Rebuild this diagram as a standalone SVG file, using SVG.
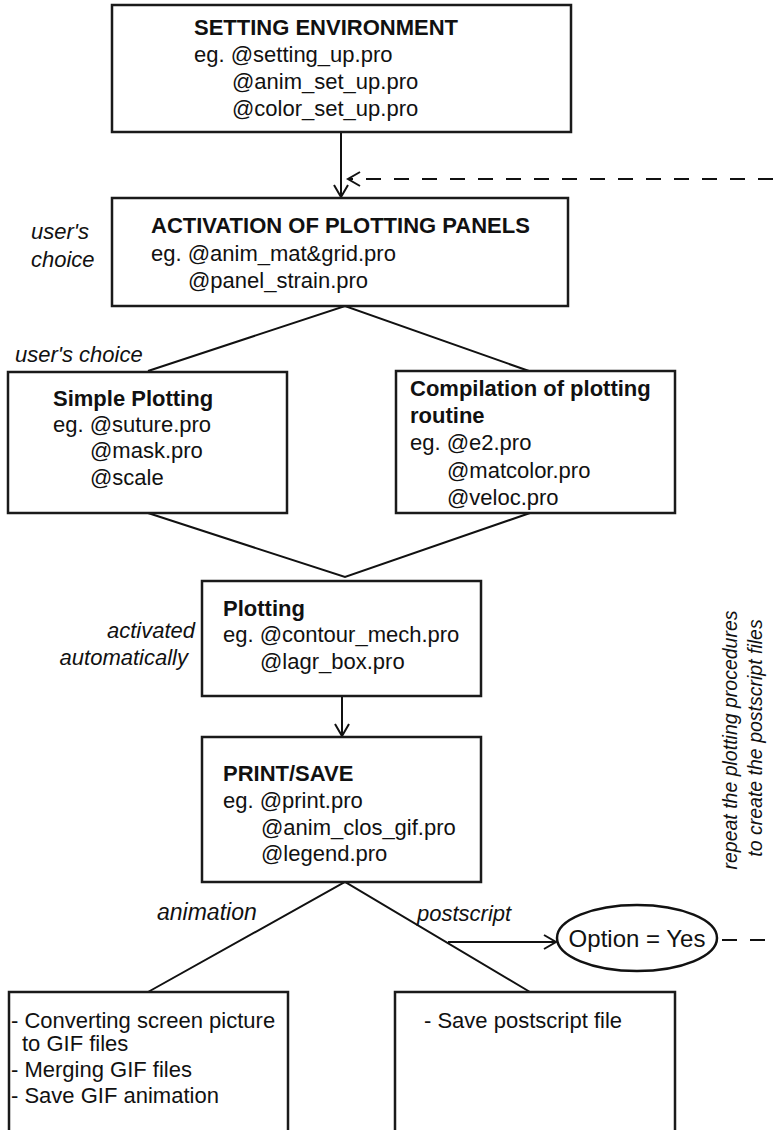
<svg xmlns="http://www.w3.org/2000/svg" width="773" height="1130" viewBox="0 0 773 1130">
<defs>
<style>
.box{fill:#fff;stroke:#1a1a1a;stroke-width:2.5}
.ln{fill:none;stroke:#111;stroke-width:2}
.dash{fill:none;stroke:#111;stroke-width:2;stroke-dasharray:15 13}
text{font-family:"Liberation Sans",Arial,sans-serif;font-size:22px;fill:#111}
.b{font-weight:bold}
.i{font-style:italic}
.r{font-style:italic;font-size:19.5px}
</style>
<marker id="ah" markerUnits="userSpaceOnUse" markerWidth="16" markerHeight="16" refX="13" refY="8" orient="auto">
<path d="M1,1 L13,8 L1,15" fill="none" stroke="#111" stroke-width="2" stroke-dasharray="none"/>
</marker>
</defs>
<rect width="773" height="1130" fill="#fff"/>

<g id="connectors">
<line class="ln" x1="341" y1="132" x2="341" y2="197" marker-end="url(#ah)"/>
<line class="dash" x1="773" y1="179" x2="348" y2="179" marker-end="url(#ah)"/>
<polyline class="ln" points="148,371 345,306 529,371"/>
<polyline class="ln" points="148,513 345,577 530,513"/>
<line class="ln" x1="342" y1="696" x2="342" y2="736" marker-end="url(#ah)"/>
<polyline class="ln" points="148,992 345,882 530,992"/>
<line class="ln" x1="448" y1="942" x2="556" y2="942" marker-end="url(#ah)"/>
<line class="dash" x1="722" y1="940" x2="773" y2="940"/>
</g>

<g id="n_setting">
<rect class="box" x="112" y="5" width="459" height="127"/>
<text class="b" x="194" y="35">SETTING ENVIRONMENT</text>
<text x="194" y="62">eg. @setting_up.pro</text>
<text x="232" y="89">@anim_set_up.pro</text>
<text x="232" y="116">@color_set_up.pro</text>
</g>

<g id="n_activation">
<rect class="box" x="112" y="198" width="456" height="108"/>
<text class="b" x="151" y="233">ACTIVATION OF PLOTTING PANELS</text>
<text x="151" y="261">eg. @anim_mat&amp;grid.pro</text>
<text x="188" y="288">@panel_strain.pro</text>
</g>

<g id="l_choice1">
<text class="i" x="31" y="239">user's</text>
<text class="i" x="31" y="267">choice</text>
</g>
<g id="l_choice2">
<text class="i" x="15" y="362">user's choice</text>
</g>

<g id="n_simple">
<rect class="box" x="8" y="372" width="279" height="141"/>
<text class="b" x="53" y="406">Simple Plotting</text>
<text x="53" y="432">eg. @suture.pro</text>
<text x="90" y="458">@mask.pro</text>
<text x="90" y="485">@scale</text>
</g>

<g id="n_compilation">
<rect class="box" x="396" y="371" width="279" height="142"/>
<text class="b" x="410" y="396">Compilation of plotting</text>
<text class="b" x="410" y="423">routine</text>
<text x="410" y="450">eg. @e2.pro</text>
<text x="447" y="478">@matcolor.pro</text>
<text x="447" y="505">@veloc.pro</text>
</g>

<g id="n_plotting">
<rect class="box" x="202" y="581" width="279" height="115"/>
<text class="b" x="223" y="616">Plotting</text>
<text x="223" y="642">eg. @contour_mech.pro</text>
<text x="260" y="669">@lagr_box.pro</text>
</g>

<g id="l_auto">
<text class="i" x="195" y="638" text-anchor="end">activated</text>
<text class="i" x="188" y="665" text-anchor="end">automatically</text>
</g>

<g id="n_print">
<rect class="box" x="202" y="737" width="279" height="145"/>
<text class="b" x="223" y="781">PRINT/SAVE</text>
<text x="223" y="808">eg. @print.pro</text>
<text x="261" y="835">@anim_clos_gif.pro</text>
<text x="261" y="861">@legend.pro</text>
</g>

<g id="l_branches">
<text class="i" x="157" y="920" style="font-size:23px">animation</text>
<text class="i" x="417" y="921">postscript</text>
</g>

<g id="n_option">
<ellipse cx="637" cy="938" rx="80" ry="33" fill="#fff" stroke="#111" stroke-width="2.5"/>
<text x="637" y="947" text-anchor="middle" style="font-size:24px">Option = Yes</text>
</g>

<g id="l_repeat">
<text class="r" transform="translate(737,740) rotate(-90)" text-anchor="middle">repeat the plotting procedures</text>
<text class="r" transform="translate(762,738) rotate(-90)" text-anchor="middle">to create the postscript files</text>
</g>

<g id="n_gif">
<rect class="box" x="9" y="992" width="279" height="150"/>
<text x="11" y="1028">- Converting screen picture</text>
<text x="22" y="1051">to GIF files</text>
<text x="11" y="1077">- Merging GIF files</text>
<text x="11" y="1103">- Save GIF animation</text>
</g>

<g id="n_ps">
<rect class="box" x="395" y="992" width="280" height="150"/>
<text x="424" y="1028">- Save postscript file</text>
</g>
</svg>
